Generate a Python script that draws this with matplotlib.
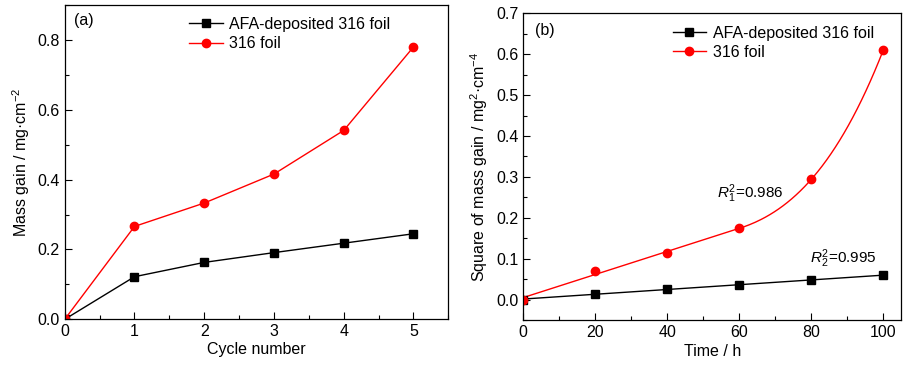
import numpy as np
import matplotlib
matplotlib.use("Agg")
import matplotlib.pyplot as plt
from matplotlib.ticker import MultipleLocator

plt.rcParams['font.family'] = ['Liberation Sans', 'DejaVu Sans']
plt.rcParams['mathtext.fontset'] = 'custom'
plt.rcParams['mathtext.rm'] = 'Liberation Sans'
plt.rcParams['mathtext.it'] = 'Liberation Sans:italic'
plt.rcParams['mathtext.default'] = 'regular'

# ---- data (a) ----
cycles = [0, 1, 2, 3, 4, 5]
afa_mass = [0.0, 0.122, 0.163, 0.191, 0.218, 0.245]
foil_mass = [0.0, 0.266, 0.333, 0.416, 0.541, 0.780]

# ---- data (b) ----
time_h = [0, 20, 40, 60, 80, 100]
afa_sq = [0.0, 0.014, 0.026, 0.036, 0.047, 0.060]
foil_sq = [0.0, 0.071, 0.113, 0.174, 0.294, 0.610]
legend_labels = ["AFA-deposited 316 foil", "316 foil"]

FS = 11.5
fig = plt.figure(figsize=(9.08, 3.68), dpi=100)
ax1 = fig.add_axes([0.0713, 0.1323, 0.4225, 0.854])
ax2 = fig.add_axes([0.5763, 0.1304, 0.4163, 0.8334])

for ax in (ax1, ax2):
    ax.tick_params(which='both', direction='in', top=False, right=False, labelsize=FS)
    ax.tick_params(which='major', length=5, width=0.8)
    ax.tick_params(which='minor', length=3, width=0.8)
    for s in ax.spines.values():
        s.set_linewidth(0.9)

# (a)
ax1.plot(cycles, afa_mass, '-s', color='black', lw=1.0, ms=5.5, label=legend_labels[0])
ax1.plot(cycles, foil_mass, '-o', color='red', lw=1.0, ms=6, label=legend_labels[1])
ax1.set_xlim(0, 5.5)
ax1.set_ylim(0, 0.9)
ax1.xaxis.set_major_locator(MultipleLocator(1))
ax1.xaxis.set_minor_locator(MultipleLocator(0.5))
ax1.yaxis.set_major_locator(MultipleLocator(0.2))
ax1.yaxis.set_minor_locator(MultipleLocator(0.1))
ax1.set_xticks([0, 1, 2, 3, 4, 5])
ax1.set_yticks([0.0, 0.2, 0.4, 0.6, 0.8])
ax1.set_xlabel("Cycle number", fontsize=FS, labelpad=2)
ax1.set_ylabel("Mass gain / mg·cm$^{-2}$", fontsize=FS, labelpad=4)
ax1.text(0.024, 0.95, "(a)", transform=ax1.transAxes, fontsize=FS, va='center', ha='left')
ax1.legend(loc='upper left', bbox_to_anchor=(0.325, 0.963), frameon=False, fontsize=FS,
           handlelength=2.1, handletextpad=0.4, labelspacing=0.3, borderpad=0, borderaxespad=0)

# (b) fits
xs = np.array(time_h, dtype=float)
ya = np.array(afa_sq)
yf = np.array(foil_sq)
pa = np.polyfit(xs, ya, 1)
xfit = np.linspace(xs[0], xs[-1], 200)
ax2.plot(xfit, np.polyval(pa, xfit), color='black', lw=1.0)

pf = np.polyfit(xs[:4], yf[:4], 1)
x_lin = np.linspace(xs[0], xs[3], 100)
# cubic from x=60 with matching slope, through 80 and 100 points
x0, y0, s0 = xs[3], np.polyval(pf, xs[3]), pf[0]
t1, t2 = xs[4] - x0, xs[5] - x0
A = np.array([[t1**2, t1**3], [t2**2, t2**3]])
rhs = np.array([yf[4] - y0 - s0 * t1, yf[5] - y0 - s0 * t2])
a, b = np.linalg.solve(A, rhs)
x_cub = np.linspace(x0, xs[5], 100)
t = x_cub - x0
y_cub = y0 + s0 * t + a * t**2 + b * t**3
ax2.plot(np.concatenate([x_lin, x_cub]),
         np.concatenate([np.polyval(pf, x_lin), y_cub]), color='red', lw=1.0)

ax2.plot(time_h, afa_sq, 's', color='black', ms=5.5, ls='none')
h1, = ax2.plot([], [], '-s', color='black', lw=1.0, ms=5.5)
ax2.plot(time_h, foil_sq, 'o', color='red', ms=6, ls='none')
h2, = ax2.plot([], [], '-o', color='red', lw=1.0, ms=6)
ax2.set_xlim(0, 105)
ax2.set_ylim(-0.05, 0.7)
ax2.xaxis.set_major_locator(MultipleLocator(20))
ax2.xaxis.set_minor_locator(MultipleLocator(10))
ax2.yaxis.set_major_locator(MultipleLocator(0.1))
ax2.yaxis.set_minor_locator(MultipleLocator(0.05))
ax2.set_xlabel("Time / h", fontsize=FS, labelpad=3)
ax2.set_ylabel("Square of mass gain / mg$^{2}$·cm$^{-4}$", fontsize=FS, labelpad=4)
ax2.text(0.03, 0.945, "(b)", transform=ax2.transAxes, fontsize=FS, va='center', ha='left')
ax2.text(53.7, 0.26, "$\\mathit{R}_1^2$=0.986", fontsize=11, va='center', ha='left')
ax2.text(79.6, 0.10, "$\\mathit{R}_2^2$=0.995", fontsize=11, va='center', ha='left')
ax2.legend([h1, h2], legend_labels, loc='upper left', bbox_to_anchor=(0.395, 0.96),
           frameon=False, fontsize=FS, handlelength=2.1, handletextpad=0.4,
           labelspacing=0.25, borderpad=0, borderaxespad=0)

fig.savefig("out.png", dpi=100)
